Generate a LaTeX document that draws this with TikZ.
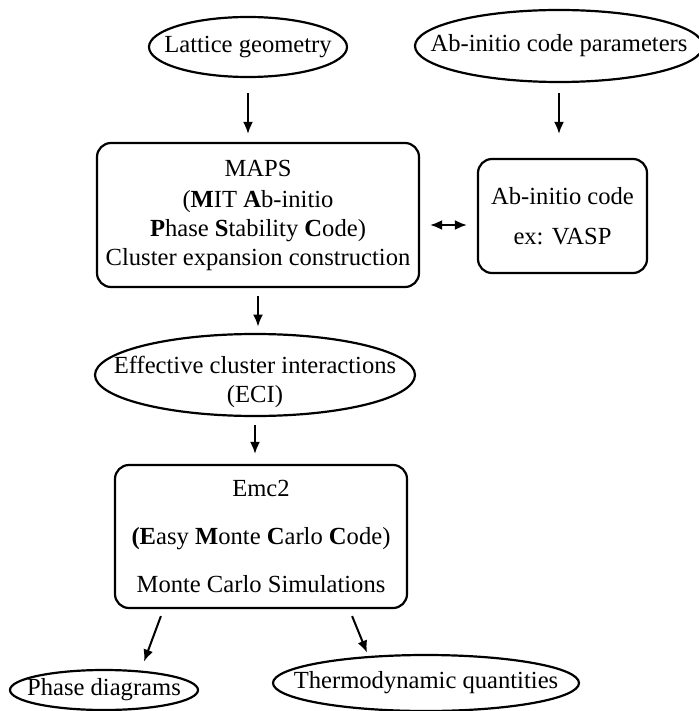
\documentclass[tikz,border=0pt]{standalone}
\usepackage{fontspec}
\setmainfont{Liberation Serif}
\usetikzlibrary{arrows.meta}
\tikzset{
	feld/.style={inner sep=0pt, align=center},
	kasten/.style={feld, draw, line width=1.1pt, rounded corners=7pt},
	rand/.style={line width=1.1pt},
	pfeil/.style={line width=1pt, >={Latex[length=6pt,width=5pt]}, ->},
}
\begin{document}
\begin{tikzpicture}[x=0.5pt, y=-0.5pt, font=\fontsize{12.3}{14.5}\selectfont]
	\useasboundingbox (0,0) rectangle (699,711);
	%%Eingaben
	\node[feld, minimum width=99pt, minimum height=30pt] (lattice) at (248,47) {Lattice geometry};
	\node[feld, minimum width=144pt, minimum height=36pt] (abpar) at (559,46) {Ab-initio code parameters};
	%%Programme
	\node[kasten, minimum width=161pt, minimum height=72pt] (maps) at (258,215)
		{MAPS\\[1pt] (\textbf{M}IT \textbf{A}b-initio\\ \textbf{P}hase \textbf{S}tability \textbf{C}ode)\\ Cluster expansion construction};
	\node[kasten, minimum width=84.5pt, minimum height=57pt] (abcode) at (562.5,216)
		{Ab-initio code\\[5.5pt] ex: VASP};
	\node[feld, minimum width=160pt, minimum height=41pt] (eci) at (255,382)
		{Effective cluster interactions\\ (ECI)};
	\node[kasten, minimum width=146pt, minimum height=71.5pt] (emc) at (261,536.5)
		{Emc2\\[9.5pt] \textbf{(E}asy \textbf{M}onte \textbf{C}arlo \textbf{C}ode)\\[9.5pt] Monte Carlo Simulations};
	%%Ergebnisse
	\node[feld, minimum width=94pt, minimum height=20pt] (phase) at (104,690) {Phase diagrams};
	\node[feld, minimum width=153pt, minimum height=28pt] (thermo) at (426,683) {Thermodynamic quantities};
	%%Ellipsen
	\foreach \n/\rx/\ry/\dy in {lattice/49.5/15/0, abpar/72/18/0, eci/80/20.5/3.5, phase/47/10/0, thermo/76.5/14/0}
		\draw[rand] ([yshift=\dy pt]\n.center) ellipse [x radius=\rx pt, y radius=\ry pt];
	%%Pfeile
	\draw[pfeil, shorten <=8pt, shorten >=4pt] (lattice.south) -- (lattice.south |- maps.north);
	\draw[pfeil, shorten <=5.5pt, shorten >=12pt] (abpar.south) -- (abpar.south |- abcode.north);
	\draw[pfeil, <->, shorten <=5pt, shorten >=5pt] ([yshift=-5pt]maps.east) -- ([yshift=-5pt]maps.east -| abcode.west);
	\draw[pfeil, shorten <=4pt, shorten >=7pt] (maps.south) -- (maps.south |- eci.north);
	\draw[pfeil, shorten <=1pt, shorten >=5pt] (eci.south) -- (eci.south |- emc.north);
	\draw[pfeil] ([xshift=23.5pt, yshift=-3.5pt]emc.south west) -- ([xshift=20pt, yshift=4pt]phase.north);
	\draw[pfeil] ([xshift=-28pt, yshift=-3.5pt]emc.south east) -- ([xshift=-29.5pt, yshift=1pt]thermo.north);
\end{tikzpicture}
\end{document}
